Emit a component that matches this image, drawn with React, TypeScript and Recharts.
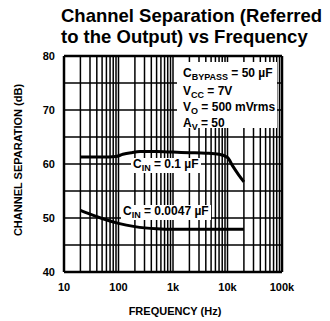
import React from 'react'
import { LineChart, Line, XAxis, YAxis, ReferenceLine } from 'recharts'

// curve values (Hz, dB)
const freqHighCin = [20, 50, 90, 120, 170, 250, 500, 1000, 2000, 4000, 7000, 10000, 12500, 16000, 20000]
const sepHighCin = [61.3, 61.3, 61.4, 61.8, 62.1, 62.3, 62.3, 62.2, 62.1, 62.0, 61.8, 61.2, 59.6, 58.0, 56.7]

const freqLowCin = [20, 30, 50, 100, 200, 500, 1000, 5000, 20000]
const sepLowCin = [51.4, 50.7, 49.9, 49.0, 48.4, 48.0, 47.9, 47.9, 47.9]

const xTicks = [10, 100, 1000, 10000, 100000]
const xTickLabels = ['10', '100', '1k', '10k', '100k']
const yTicks = [40, 50, 60, 70, 80]
const yGrid = [45, 50, 55, 60, 65, 70, 75]
const xGrid = [
  20, 30, 40, 50, 60, 70, 80, 90, 100,
  200, 300, 400, 500, 600, 700, 800, 900, 1000,
  2000, 3000, 4000, 5000, 6000, 7000, 8000, 9000, 10000,
  20000, 30000, 40000, 50000, 60000, 70000, 80000, 90000,
]

const highData = freqHighCin.map((f, i) => ({ f, v: sepHighCin[i] }))
const lowData = freqLowCin.map((f, i) => ({ f, v: sepLowCin[i] }))

const sans = '"Liberation Sans", Arial, sans-serif'

const lbl: React.CSSProperties = {
  position: 'absolute',
  fontFamily: sans,
  fontWeight: 700,
  fontSize: 12,
  color: '#000',
  whiteSpace: 'nowrap',
  lineHeight: '12px',
}

const Sub = ({ children }: { children: React.ReactNode }) => (
  <span style={{ fontSize: 9, position: 'relative', top: 3 }}>{children}</span>
)

export default function App() {
  return (
    <div style={{ position: 'absolute', left: 0, top: 0, width: 330, height: 321, background: '#fff' }}>
      <LineChart
        width={330}
        height={321}
        margin={{ top: 56, right: 48, bottom: 29, left: 24 }}
      >
        <XAxis
          dataKey="f"
          type="number"
          scale="log"
          domain={[10, 100000]}
          ticks={xTicks}
          tickFormatter={(v) => xTickLabels[xTicks.indexOf(v)] ?? ''}
          axisLine={false}
          tickLine={false}
          tickSize={0}
          tickMargin={11}
          height={20}
          allowDataOverflow
          tick={{ fill: '#000', fontSize: 11, fontWeight: 700, fontFamily: sans }}
        />
        <YAxis
          type="number"
          domain={[40, 80]}
          ticks={yTicks}
          axisLine={false}
          tickLine={false}
          tickSize={0}
          tickMargin={9}
          width={40}
          allowDataOverflow
          tick={{ fill: '#000', fontSize: 11, fontWeight: 700, fontFamily: sans }}
        />
        {yGrid.map((y) => (
          <ReferenceLine key={`h${y}`} y={y} stroke="#000" strokeWidth={1.6} />
        ))}
        {xGrid.map((x) => (
          <ReferenceLine key={`v${x}`} x={x} stroke="#000" strokeWidth={1.5} />
        ))}
        <ReferenceLine y={80} stroke="#000" strokeWidth={2.5} />
        <ReferenceLine y={40} stroke="#000" strokeWidth={2.5} />
        <ReferenceLine x={10} stroke="#000" strokeWidth={2.5} />
        <ReferenceLine x={100000} stroke="#000" strokeWidth={2.5} />
        <Line
          data={highData}
          dataKey="v"
          type="monotone"
          stroke="#000"
          strokeWidth={3}
          dot={false}
          isAnimationActive={false}
        />
        <Line
          data={lowData}
          dataKey="v"
          type="monotone"
          stroke="#000"
          strokeWidth={3}
          dot={false}
          isAnimationActive={false}
        />
      </LineChart>

      {/* title */}
      <div
        style={{
          position: 'absolute',
          left: 61,
          top: 5,
          fontFamily: sans,
          fontWeight: 700,
          fontSize: 18.5,
          lineHeight: '21px',
          color: '#000',
          whiteSpace: 'nowrap',
        }}
      >
        Channel Separation (Referred
        <br />
        to the Output) vs Frequency
      </div>

      {/* axis titles */}
      <div style={{ ...lbl, fontSize: 11, left: 175, top: 305, transform: 'translateX(-50%)' }}>
        FREQUENCY (Hz)
      </div>
      <div
        style={{
          ...lbl,
          fontSize: 11,
          left: 18,
          top: 160,
          transform: 'translate(-50%, -50%) rotate(-90deg)',
        }}
      >
        CHANNEL SEPARATION (dB)
      </div>

      {/* conditions box */}
      <div style={{ position: 'absolute', left: 177, top: 62, width: 100, height: 66, background: '#fff' }} />
      <div style={{ ...lbl, left: 183, top: 67 }}>
        C<Sub>BYPASS</Sub> = 50 µF
      </div>
      <div style={{ ...lbl, left: 183, top: 85 }}>
        V<Sub>CC</Sub> = 7V
      </div>
      <div style={{ ...lbl, left: 183, top: 101 }}>
        V<Sub>O</Sub> = 500 mVrms
      </div>
      <div style={{ ...lbl, left: 183, top: 117 }}>
        A<Sub>V</Sub> = 50
      </div>

      {/* curve labels */}
      <div style={{ ...lbl, left: 131, top: 158, background: '#fff', padding: '0 2px 2px' }}>
        C<Sub>IN</Sub> = 0.1 µF
      </div>
      <div style={{ ...lbl, left: 121, top: 205, background: '#fff', padding: '0 2px 2px' }}>
        C<Sub>IN</Sub> = 0.0047 µF
      </div>
    </div>
  )
}
